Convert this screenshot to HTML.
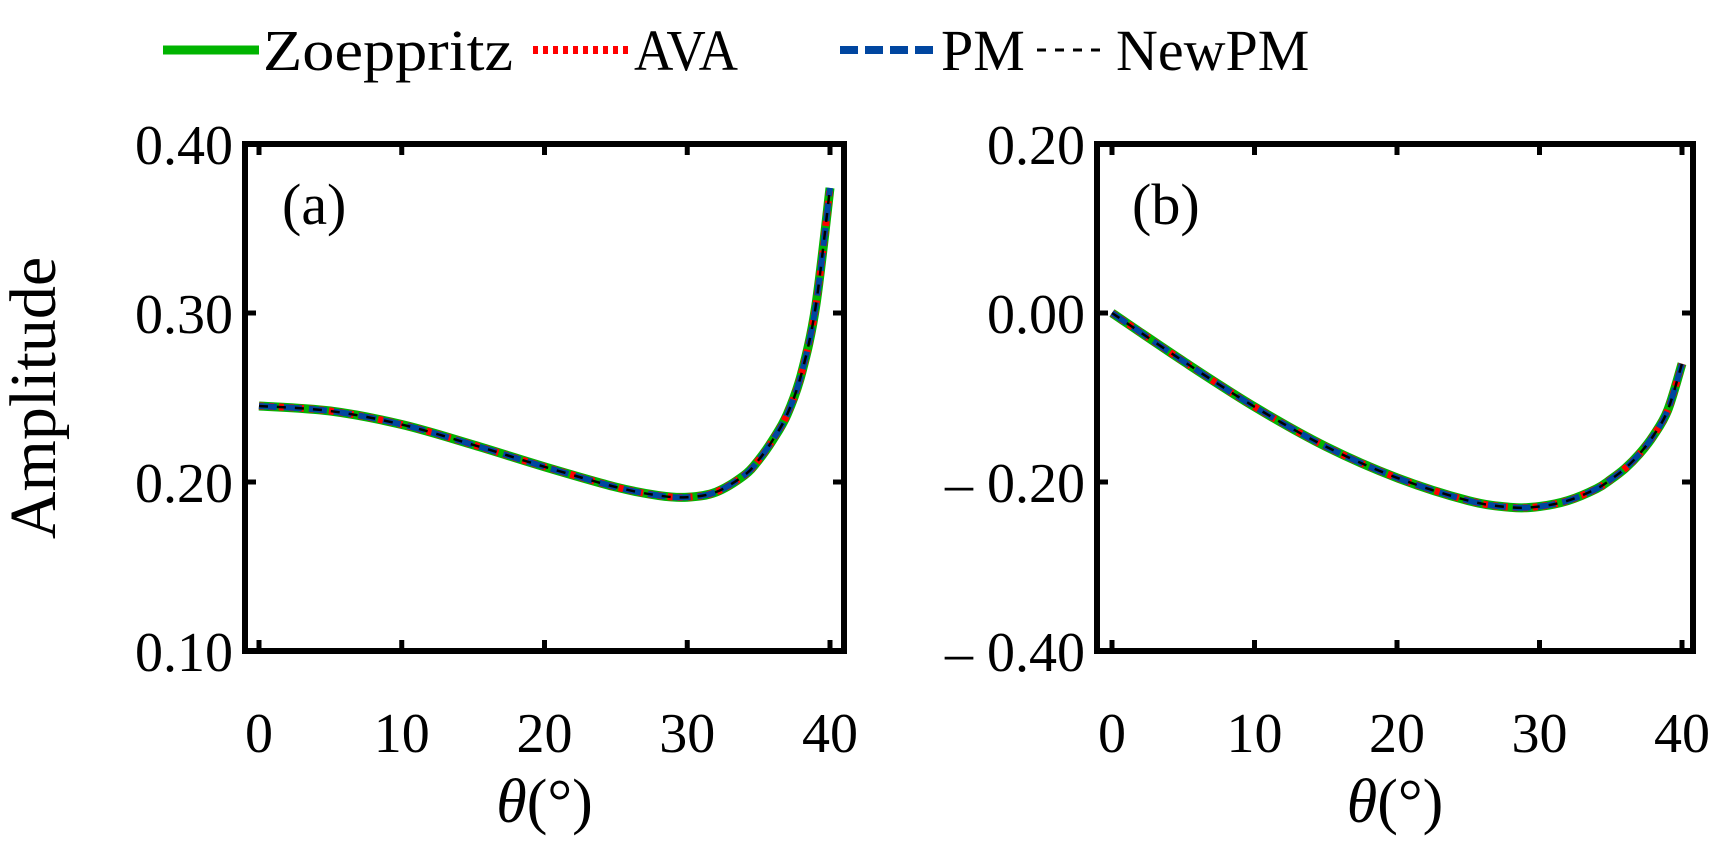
<!DOCTYPE html>
<html><head><meta charset="utf-8"><style>
html,body{margin:0;padding:0;background:#fff;}
svg{display:block;font-family:"Liberation Serif",serif;}
</style></head><body>
<svg id="c" width="1730" height="846" viewBox="0 0 1730 846">
<g id="legend">
 <g><line x1="163" y1="50" x2="259" y2="50" stroke="#00b400" stroke-width="9"/><text x="263" y="70" font-size="58" textLength="250" lengthAdjust="spacingAndGlyphs">Zoeppritz</text></g>
 <g><line x1="533" y1="50" x2="629" y2="50" stroke="#ff0000" stroke-width="8" stroke-dasharray="5,5"/><text x="634" y="70" font-size="58" textLength="104" lengthAdjust="spacingAndGlyphs">AVA</text></g>
 <g><line x1="840" y1="50" x2="937" y2="50" stroke="#0046a0" stroke-width="8" stroke-dasharray="18,7"/><text x="941" y="70" font-size="58">PM</text></g>
 <g><line x1="1037" y1="50" x2="1109" y2="50" stroke="#000" stroke-width="3" stroke-dasharray="9,9"/><text x="1116" y="70" font-size="58">NewPM</text></g>
</g>
<text x="55" y="398" font-size="66" text-anchor="middle" transform="rotate(-90 55 398)">Amplitude</text>
</svg>
<script>
const thetas=[0,5,10,15,20,25,28,30,32,34,35,36,37,38,39,40];
const ampA=[0.245,0.242,0.234,0.222,0.209,0.197,0.192,0.191,0.194,0.204,0.213,0.225,0.240,0.264,0.304,0.374];
const ampB=[0,-0.057,-0.111,-0.158,-0.195,-0.222,-0.230,-0.229,-0.222,-0.208,-0.197,-0.184,-0.167,-0.145,-0.115,-0.06];
const xTicks=[0,10,20,30,40];
const yTicksA=[0.10,0.20,0.30,0.40];
const yTicksB=[-0.40,-0.20,0.00,0.20];
const svg=document.getElementById('c');
const NS='http://www.w3.org/2000/svg';
function mk(tag,attrs,parent){const e=document.createElementNS(NS,tag);for(const k in attrs)e.setAttribute(k,attrs[k]);(parent||svg).appendChild(e);return e;}
function panel(id,L,R,T,B,x0,x1,ymin,ymax,yTicks,vals,label,labelX){
 const g=mk('g',{});
 
 
 const sx=v=>x0+(v-0)/40*(x1-x0);
 const sy=v=>B-(v-ymin)/(ymax-ymin)*(B-T);
 xTicks.forEach(t=>{
  mk('line',{x1:sx(t),x2:sx(t),y1:B,y2:B-11,stroke:'#000','stroke-width':5},g);
  mk('line',{x1:sx(t),x2:sx(t),y1:T,y2:T+11,stroke:'#000','stroke-width':5},g);
  const tx=mk('text',{x:sx(t),y:752,'font-size':56,'text-anchor':'middle'},g);
  tx.textContent=t;
  
  
 });
 yTicks.forEach(t=>{
  mk('line',{x1:L,x2:L+11,y1:sy(t),y2:sy(t),stroke:'#000','stroke-width':5},g);
  mk('line',{x1:R,x2:R-11,y1:sy(t),y2:sy(t),stroke:'#000','stroke-width':5},g);
  const s=t<0?'\u2013 '+Math.abs(t).toFixed(2):t.toFixed(2);
  const tx=mk('text',{x:L-12,y:sy(t)+20,'font-size':56,'text-anchor':'end'},g);
  tx.textContent=s;
  
  
 });
 const fr=mk('rect',{x:L,y:T,width:R-L,height:B-T,fill:'none',stroke:'#000','stroke-width':6},g);
 
 
 const pts=thetas.map((t,i)=>[sx(t),sy(vals[i])]);
 let d='M'+pts[0][0]+','+pts[0][1];
 for(let i=0;i<pts.length-1;i++){
  const p0=pts[Math.max(0,i-1)],p1=pts[i],p2=pts[i+1],p3=pts[Math.min(pts.length-1,i+2)];
  const c1=[p1[0]+(p2[0]-p0[0])/6,p1[1]+(p2[1]-p0[1])/6];
  const c2=[p2[0]-(p3[0]-p1[0])/6,p2[1]-(p3[1]-p1[1])/6];
  d+=' C'+c1[0]+','+c1[1]+' '+c2[0]+','+c2[1]+' '+p2[0]+','+p2[1];
 }
 const styles=[['zoeppritz','#00b400',9,'none'],['ava','#ff0000',7,'5,5'],['pm','#0046a0',6,'18,7'],['newpm','#000',2.5,'9,9']];
 styles.forEach(s=>{
  const p=mk('path',{d:d,fill:'none',stroke:s[1],'stroke-width':s[2],'stroke-dasharray':s[3]},g);
  
  
 });
 const lb=mk('text',{x:labelX,y:224,'font-size':58},g);
 lb.textContent=label;
 
 
 const xt=mk('text',{x:(L+R)/2,y:822,'font-size':62,'text-anchor':'middle'},g);
 xt.innerHTML='<tspan font-style="italic">θ</tspan>(°)';
 
 
}
panel('a',245,844,144,651,259,830,0.10,0.40,yTicksA,ampA,'(a)',282);
panel('b',1097,1693,144,651,1112,1682,-0.40,0.20,yTicksB,ampB,'(b)',1132);
</script>
</body></html>
